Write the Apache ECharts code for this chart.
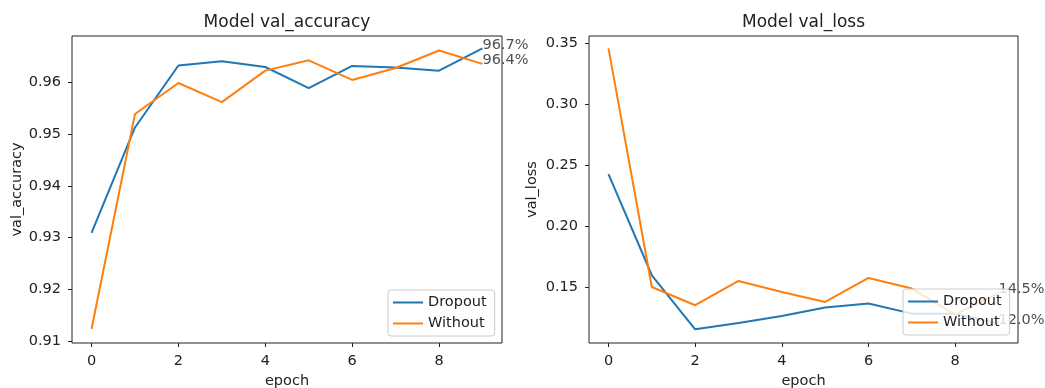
<!DOCTYPE html>
<html><head><meta charset="utf-8">
<script src="https://cdn.jsdelivr.net/npm/echarts@6/dist/echarts.min.js"></script>
<style>html,body{margin:0;padding:0;background:#fff}#c{width:1045px;height:388px}</style>
</head><body><div id="c"></div>
<script>
const epochs = [0,1,2,3,4,5,6,7,8,9];
const accDropout  = [0.9309,0.9513,0.9633,0.9641,0.9630,0.9589,0.9632,0.9629,0.9623,0.9666];
const accWithout  = [0.9123,0.9539,0.9599,0.9562,0.9623,0.9643,0.9605,0.9628,0.9662,0.9636];
const lossDropout = [0.2426,0.1596,0.1152,0.1204,0.1262,0.1331,0.1364,0.1281,0.1280,0.1200];
const lossWithout = [0.3459,0.1500,0.1350,0.1549,0.1459,0.1377,0.1574,0.1487,0.1273,0.1450];
const xTicks = [0,2,4,6,8];
const accTicks = [0.91,0.92,0.93,0.94,0.95,0.96];
const lossTicks = [0.15,0.20,0.25,0.30,0.35];
const seriesNames = ['Dropout','Without'];
const titles = ['Model val_accuracy','Model val_loss'];
const yNames = ['val_accuracy','val_loss'];

const FONT = 'DejaVu Sans';
const TXT = '#222';
const BLUE = '#1f77b4', ORANGE = '#ff7f0e';
const FS = 14.5;

const grids = [
  {left:72, top:36, width:430, height:307},
  {left:589, top:36, width:429, height:307}
];

function xAxis(i){
  return {type:'value', gridIndex:i, min:-0.45, max:9.45,
    name:'epoch', nameLocation:'middle', nameGap:31,
    nameTextStyle:{fontFamily:FONT, fontSize:FS, color:TXT},
    axisLine:{show:false, onZero:false},
    axisTick:{show:true, customValues:xTicks, length:4, lineStyle:{color:TXT, width:1}},
    axisLabel:{customValues:xTicks, margin:11, fontFamily:FONT, fontSize:FS, color:TXT, formatter:v=>String(v)},
    splitLine:{show:false}};
}
function yAxis(i, min, max, ticks, gap){
  return {type:'value', gridIndex:i, min:min, max:max,
    name:yNames[i], nameLocation:'middle', nameGap:gap, nameRotate:90,
    nameTextStyle:{fontFamily:FONT, fontSize:FS, color:TXT},
    axisLine:{show:false, onZero:false},
    axisTick:{show:true, customValues:ticks, length:4, lineStyle:{color:TXT, width:1}},
    axisLabel:{customValues:ticks, margin:11, fontFamily:FONT, fontSize:FS, color:TXT, formatter:v=>v.toFixed(2)},
    splitLine:{show:false}};
}
function line(name, i, vals, color){
  return {type:'line', name:name, xAxisIndex:i, yAxisIndex:i,
    data:epochs.map((e,k)=>[e, vals[k]]), symbol:'none', showSymbol:false,
    lineStyle:{color:color, width:2}, itemStyle:{color:color}, animation:false, z:2};
}
function endLabel(i, vals){
  const last = epochs.length-1;
  return {type:'scatter', xAxisIndex:i, yAxisIndex:i, symbolSize:0, silent:true,
    data:[[epochs[last], vals[last]]], animation:false, z:3,
    label:{show:true, position:[0,0], align:'left', verticalAlign:'bottom', offset:[0,4],
      fontFamily:FONT, fontSize:FS, color:TXT,
      formatter:p=>(p.value[1]*100).toFixed(1)+'%'}};
}
function legend(left, top){
  return {orient:'vertical', left:left, top:top, data:seriesNames.map(n=>({name:n, icon:'rect'})),
    itemWidth:30, itemHeight:2, itemGap:6, padding:[5,8,5,5],
    backgroundColor:'rgba(255,255,255,0.8)', borderColor:'#cccccc', borderWidth:1, borderRadius:3,
    textStyle:{fontFamily:FONT, fontSize:FS, color:TXT}, selectedMode:false};
}

const chart = echarts.init(document.getElementById('c'), null, {renderer:'canvas'});
chart.setOption({
  backgroundColor:'#fff',
  animation:false,
  title: titles.map((t,i)=>({text:t, left:grids[i].left+grids[i].width/2, top:14, textAlign:'center', padding:0,
    textStyle:{fontFamily:FONT, fontSize:17, fontWeight:'normal', color:TXT}})),
  grid: grids.map(g=>Object.assign({show:true, containLabel:false, outerBoundsMode:'none',
    borderColor:TXT, borderWidth:1, backgroundColor:'transparent'}, g)),
  xAxis:[xAxis(0), xAxis(1)],
  yAxis:[yAxis(0, 0.9096, 0.9690, accTicks, 44), yAxis(1, 0.104, 0.356, lossTicks, 49)],
  legend:[legend(388, 290), legend(903, 289)],
  series:[
    line(seriesNames[0], 0, accDropout, BLUE),
    line(seriesNames[1], 0, accWithout, ORANGE),
    line(seriesNames[0], 1, lossDropout, BLUE),
    line(seriesNames[1], 1, lossWithout, ORANGE),
    endLabel(0, accDropout), endLabel(0, accWithout),
    endLabel(1, lossDropout), endLabel(1, lossWithout)
  ]
});
</script></body></html>
